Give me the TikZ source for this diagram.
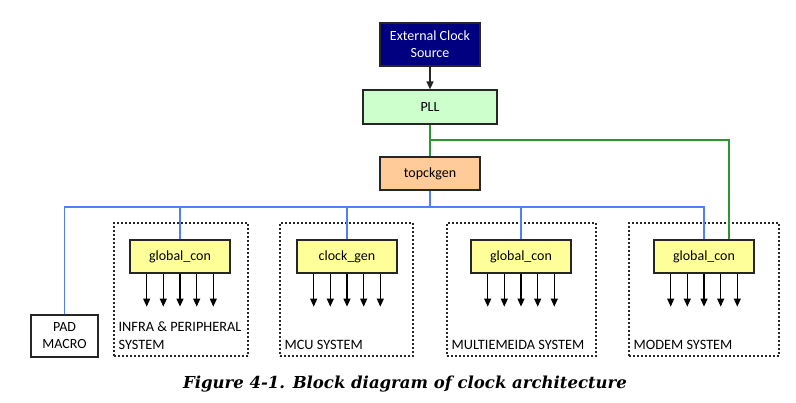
\documentclass[tikz,border=0pt]{standalone}
\usepackage{fontspec}
\usepackage{tikz}
\usetikzlibrary{arrows.meta}
\setmainfont{Carlito}
\newfontfamily\capfont{DejaVu Serif}
\definecolor{navyclk}{HTML}{000080}
\definecolor{pllgreen}{HTML}{CCFFCC}
\definecolor{topckorange}{HTML}{FFCC99}
\definecolor{gcyellow}{HTML}{FFFF99}
\definecolor{busblue}{HTML}{4F7FFF}
\definecolor{plltrace}{HTML}{2E962E}
\newcommand{\blockfont}{\fontsize{14}{17}\selectfont}
\newcommand{\sysfont}{\fontsize{14.3}{17.5}\selectfont}
\newcommand{\figcaption}[1]{{\capfont\fontsize{16.5}{20}\selectfont\bfseries\itshape #1}}
\tikzset{
  block/.style={draw=black!85, line width=1.2pt, inner sep=0pt, align=center, font=\blockfont},
  sysbox/.style={draw=black!85, dash pattern=on 2pt off 2pt, line width=1.2pt, inner sep=0pt},
  syslabel/.style={anchor=south west, align=left, inner sep=0pt, font=\sysfont},
  bus/.style={draw=busblue, line width=1.3pt},
  pllline/.style={draw=plltrace, line width=1.3pt},
  fanout/.style={draw=black, line width=1.2pt, -{Triangle[width=7pt,length=8pt]}}
}

\begin{document}
\begin{tikzpicture}[x=1pt, y=-1pt]
\useasboundingbox (0,0) rectangle (796,403);
% top of the clock tree
\node[block, fill=navyclk, text=white, minimum width=100pt, minimum height=43pt] (extclk) at (430,44.5) {External Clock\\Source};
\node[block, fill=pllgreen, minimum width=134pt, minimum height=34pt] (pll) at (430,107) {PLL};
\node[block, fill=topckorange, minimum width=100pt, minimum height=33pt] (topck) at (430,173.5) {topckgen};
\draw[line width=1.3pt, draw=black!85, -{Triangle[width=7pt,length=8pt]}] (extclk.south) -- (pll.north);

% subsystems
\node[sysbox, minimum width=134pt, minimum height=133pt] (infra) at (181,289.5) {};
\node[sysbox, minimum width=133pt, minimum height=133pt] (mcu) at (346.5,289.5) {};
\node[sysbox, minimum width=149pt, minimum height=133pt] (mm) at (521.5,289.5) {};
\node[sysbox, minimum width=150pt, minimum height=133pt] (modem) at (704,289.5) {};
\node[syslabel] (infralbl) at ([xshift=5pt,yshift=7pt]infra.south west) {INFRA \& PERIPHERAL\\SYSTEM};
\node[syslabel] (mculbl) at ([xshift=5pt,yshift=7pt]mcu.south west) {MCU SYSTEM};
\node[syslabel] (mmlbl) at ([xshift=5pt,yshift=7pt]mm.south west) {MULTIEMEIDA SYSTEM};
\node[syslabel] (modemlbl) at ([xshift=5pt,yshift=7pt]modem.south west) {MODEM SYSTEM};

\node[block, fill=gcyellow, minimum width=100pt, minimum height=33pt] (gcinfra) at (180,256.5) {global\_con};
\node[block, fill=gcyellow, minimum width=100pt, minimum height=33pt] (gcmcu) at (347,256.5) {clock\_gen};
\node[block, fill=gcyellow, minimum width=100pt, minimum height=33pt] (gcmm) at (521,256.5) {global\_con};
\node[block, fill=gcyellow, minimum width=100pt, minimum height=33pt] (gcmodem) at (704,256.5) {global\_con};
\node[block, fill=white, minimum width=67pt, minimum height=42pt] (pad) at (64.5,336) {PAD\\MACRO};

% clock outputs
\foreach \gc in {gcinfra,gcmcu,gcmm,gcmodem}
  \foreach \dx in {-33.3,-16.7,0,16.7,33.3}
    \draw[fanout] ([xshift=\dx pt]\gc.south) -- ++(0,33);

% distribution
\coordinate (busr) at (704,207);
\coordinate (plltap) at (430,140);
\draw[bus] (pad.north) |- (busr) -- (gcmodem.north);
\draw[bus] (topck.south) -- (topck.south |- busr);
\foreach \gc in {gcinfra,gcmcu,gcmm}
  \draw[bus] (\gc.north) -- (\gc.north |- busr);
\draw[pllline] (pll.south) -- (topck.north);
\draw[pllline] (plltap) -| ([xshift=25pt]gcmodem.north);

\node (caption) at (405,384) {\figcaption{Figure 4-1. Block diagram of clock architecture}};
\end{tikzpicture}
\end{document}
